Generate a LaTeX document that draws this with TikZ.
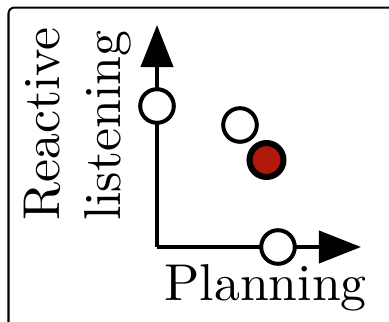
\documentclass[tikz,border=0pt]{standalone}
\usetikzlibrary{arrows.meta}
\definecolor{dotred}{RGB}{176,24,12}
\begin{document}
\begin{tikzpicture}[x=1bp, y=-1bp,
  axis/.style={line width=4bp, -{Triangle[length=42bp, width=32bp]}},
  option/.style={circle, draw, line width=4bp, fill=white, inner sep=0pt, minimum size=33.6bp},
  chosen/.style={circle, draw, line width=6bp, fill=dotred, inner sep=0pt, minimum size=34bp},
  label/.style={inner sep=0pt, font=\fontsize{10}{12}\selectfont, scale=5.2}]
  \useasboundingbox (0,0) rectangle (389,322);
  \clip (0,0) rectangle (389,322);
  % outer frame
  \draw[line width=2bp, rounded corners=6bp] (8.5,7.5) rectangle (430,360);
  % axes
  \coordinate (origin) at (157,247);
  \coordinate (ytip) at (157,25);
  \coordinate (xtip) at (361,247);
  \draw[axis] (origin) -- (ytip);
  \draw[axis] (origin) -- (xtip);
  % positions in the plane
  \node[option] (react) at (157,106) {};
  \node[option] (mixed) at (240,125) {};
  \node[chosen] (ours)  at (266.5,160) {};
  \node[option] (plan)  at (278,247) {};
  % axis labels
  \node[label, anchor=base west] (xlabel) at (163.5,300) {Planning};
  \node[label, rotate=90, anchor=base west] (ylabel1) at (60,222) {Reactive};
  \node[label, rotate=90, anchor=base west] (ylabel2) at (121,222) {listening};
\end{tikzpicture}
\end{document}
